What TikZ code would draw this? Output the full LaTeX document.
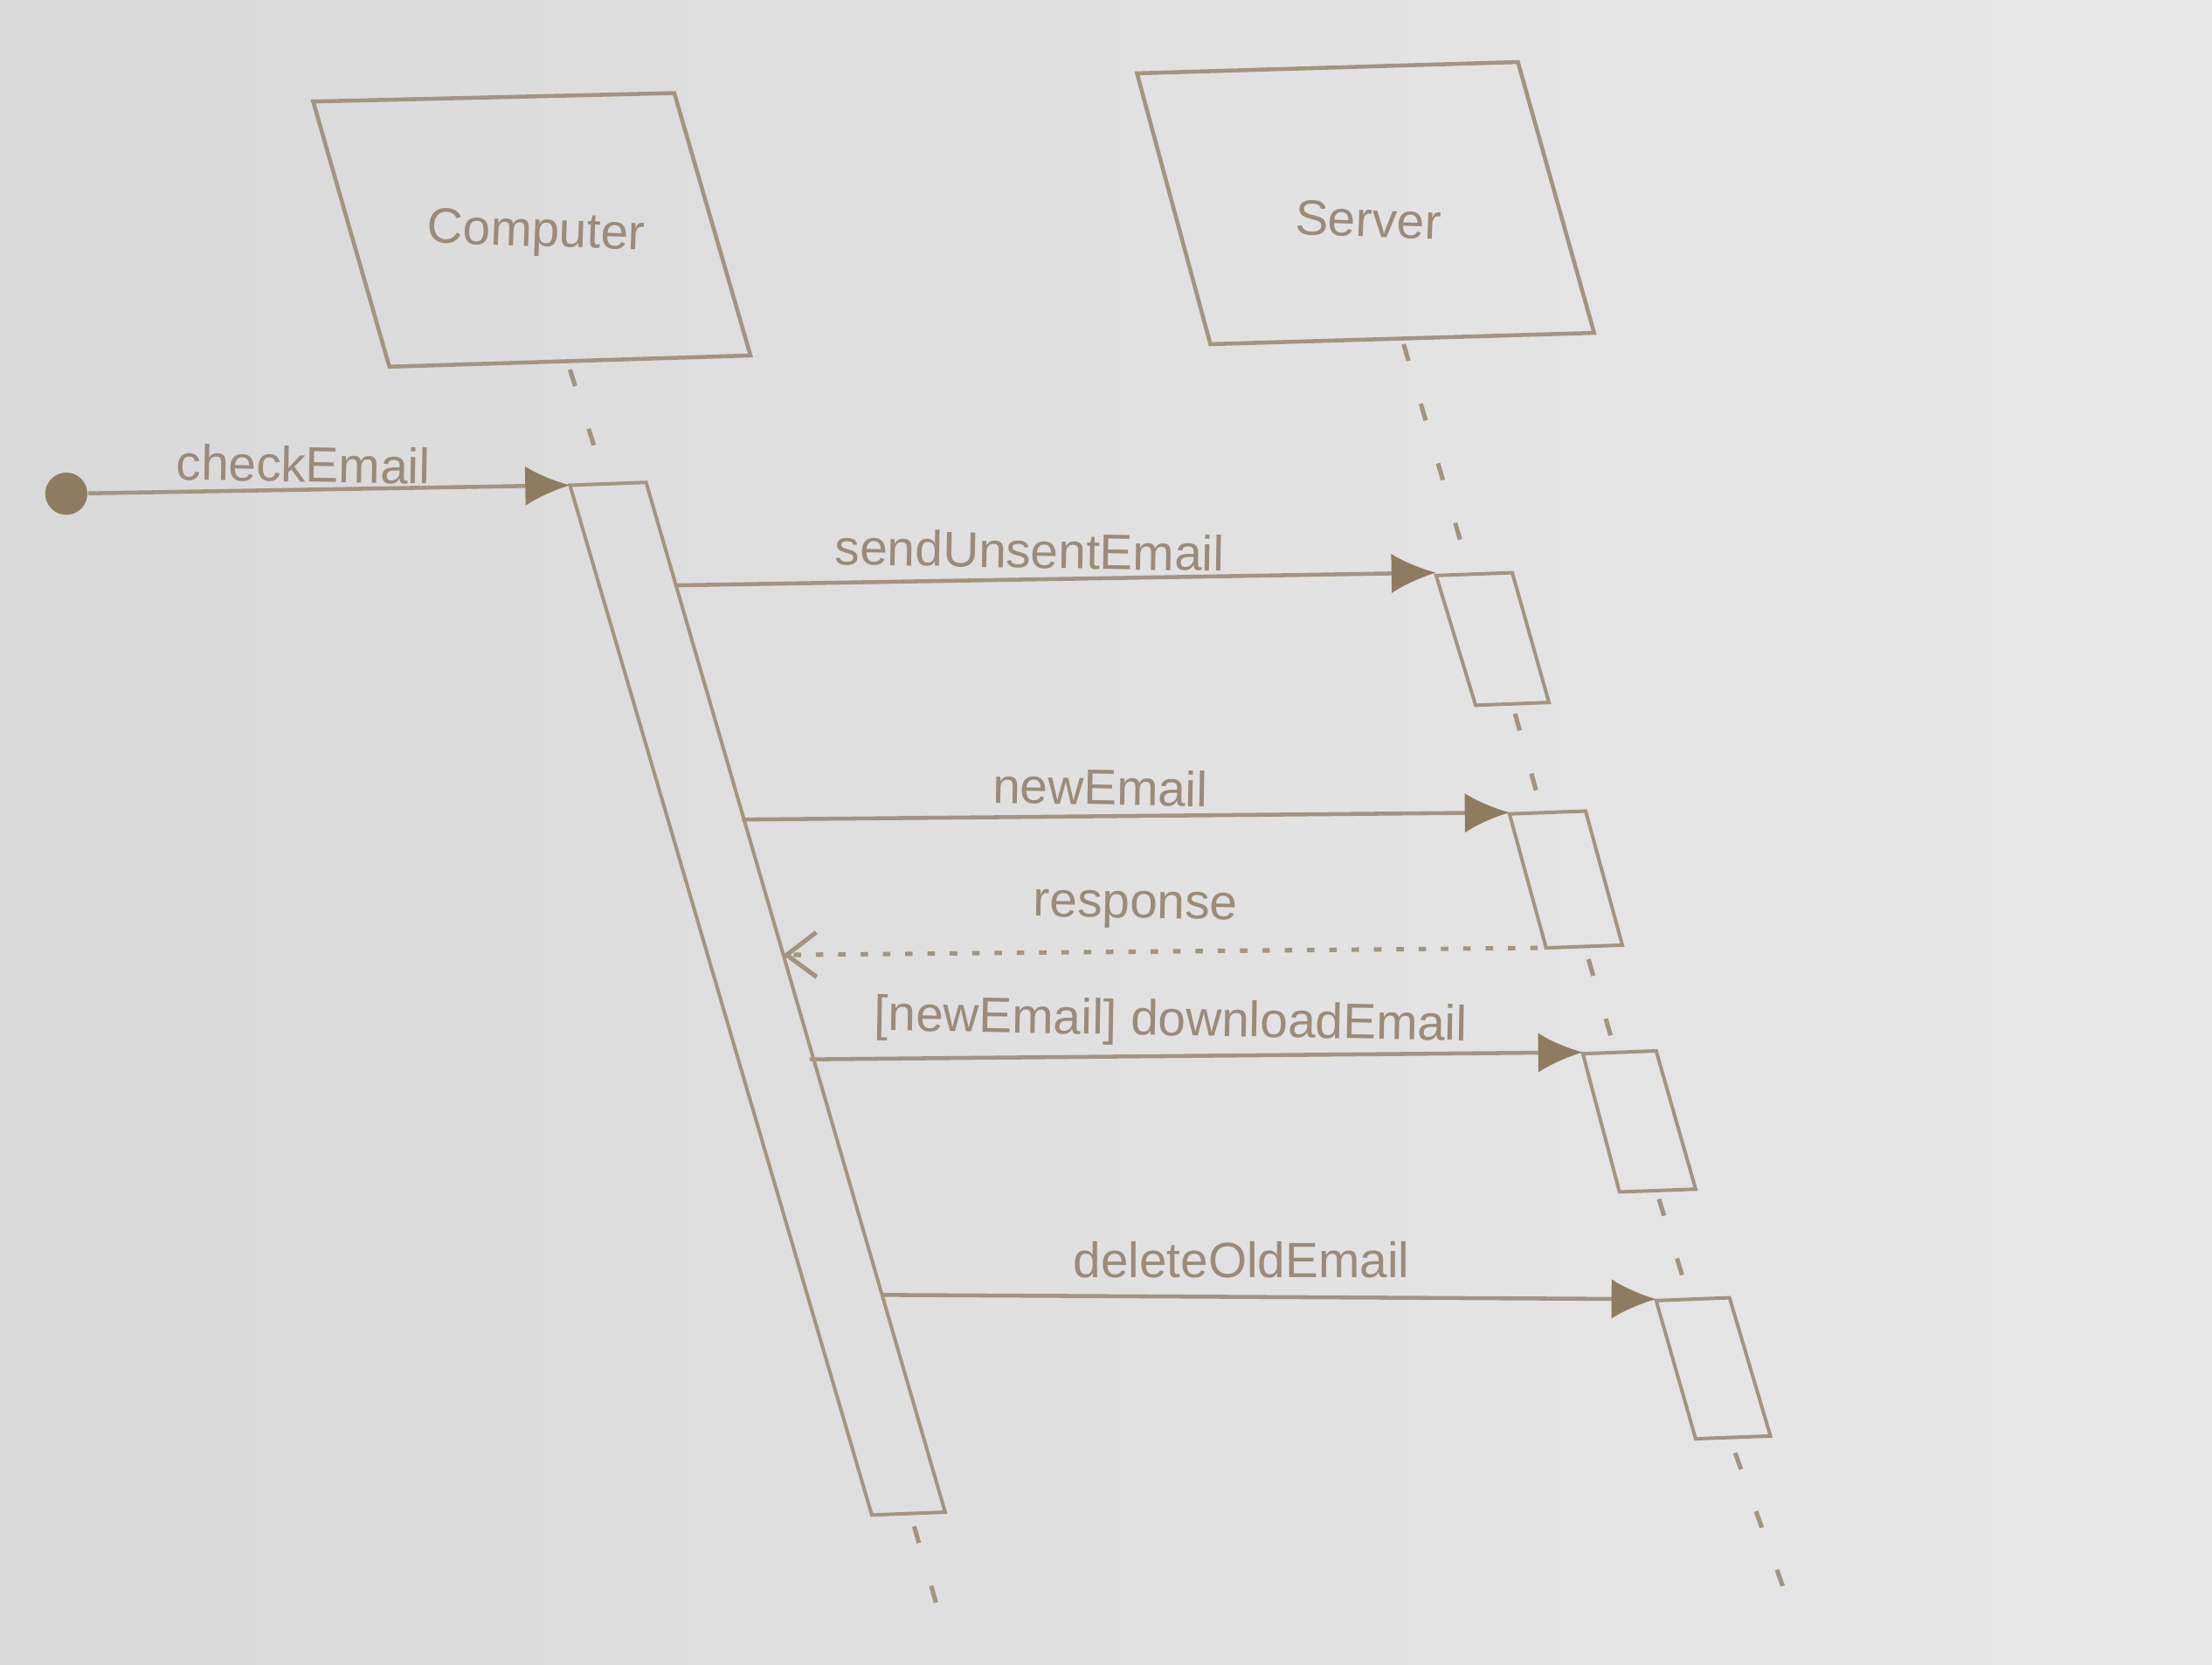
\documentclass[tikz,border=0pt]{standalone}
\usepackage{fontspec}
\setmainfont{Liberation Sans}
\usetikzlibrary{arrows.meta}
\definecolor{ink}{HTML}{A39480}
\definecolor{tip}{HTML}{8E7C60}
\definecolor{txt}{HTML}{9A8B7A}
\begin{document}
\begin{tikzpicture}[x=0.01cm,y=-0.01cm,
  box/.style={draw=ink,line width=0.8pt},
  bar/.style={draw=ink,line width=0.7pt},
  life/.style={draw=ink,line width=0.9pt,dash pattern=on 3.5pt off 9pt},
  msg/.style={draw=ink,line width=0.8pt,-{Latex[length=9pt,width=8pt,color=tip]}},
  ret/.style={draw=ink,line width=0.9pt,dash pattern=on 1.5pt off 3pt,-{Straight Barb[length=6pt,width=9pt]}},
  lbl/.style={text=txt,font=\fontsize{10}{12}\selectfont,inner sep=1pt}]
\shade[left color=black!15,right color=black!9] (0,0) rectangle (1568,1180);
\useasboundingbox (0,0) rectangle (1568,1180);
% lifeline heads
\draw[box] (222,72) -- (478,66) -- (532,252) -- (276,260) -- cycle;
\node[lbl,rotate=-2] (comp) at (380,166) {Computer};
\draw[box] (806,52) -- (1076,44) -- (1130,236) -- (858,244) -- cycle;
\node[lbl,rotate=-2] (serv) at (970,156) {Server};
% coordinates
\coordinate (cl0) at (404,262);
\coordinate (cl1) at (428,338);
\coordinate (cl2) at (648,1082);
\coordinate (cl3) at (664,1138);
\coordinate (sl0) at (995,244);
\coordinate (sl1) at (1040,400);
% computer lifeline
\draw[life] (cl0) -- (cl1);
\draw[life] (cl2) -- (cl3);
% activation bar computer
\draw[bar] (404,344) -- (458,342) -- (670,1072) -- (618,1074) -- cycle;
% server lifeline segments
\draw[life] (sl0) -- (sl1);
\draw[life] (1074,506) -- (1092,572);
\draw[life] (1126,680) -- (1144,742);
\draw[life] (1176,850) -- (1196,916);
\draw[life] (1230,1030) -- (1270,1142);
% server activation boxes
\draw[bar] (1018,408) -- (1072,406) -- (1098,498) -- (1046,500) -- cycle;
\draw[bar] (1070,577) -- (1124,575) -- (1150,670) -- (1096,672) -- cycle;
\draw[bar] (1122,747) -- (1174,745) -- (1202,843) -- (1148,845) -- cycle;
\draw[bar] (1174,922) -- (1226,920) -- (1255,1018) -- (1202,1020) -- cycle;
% messages
\node[circle,fill=tip,minimum size=8.5pt,inner sep=0pt] (start) at (47,350) {};
\coordinate (c1) at (404,344);
\draw[msg] (start) -- (c1);
\node[lbl,rotate=-1] (l1) at (215,329) {checkEmail};
\coordinate (a2) at (478,415); \coordinate (b2) at (1018,406);
\draw[msg] (a2) -- (b2);
\node[lbl,rotate=-1] (l2) at (730,390) {sendUnsentEmail};
\coordinate (a3) at (526,581); \coordinate (b3) at (1070,576);
\draw[msg] (a3) -- (b3);
\node[lbl,rotate=-1] (l3) at (780,558) {newEmail};
\coordinate (a4) at (1090,672); \coordinate (b4) at (555,677);
\draw[ret] (a4) -- (b4);
\node[lbl,rotate=-1] (l4) at (805,645) {response};
\coordinate (a5) at (574,751); \coordinate (b5) at (1122,746);
\draw[msg] (a5) -- (b5);
\node[lbl,rotate=-1] (l5) at (830,725) {[newEmail] downloadEmail};
\coordinate (a6) at (625,918); \coordinate (b6) at (1174,921);
\draw[msg] (a6) -- (b6);
\node[lbl] (l6) at (880,893) {deleteOldEmail};
\end{tikzpicture}
\end{document}
